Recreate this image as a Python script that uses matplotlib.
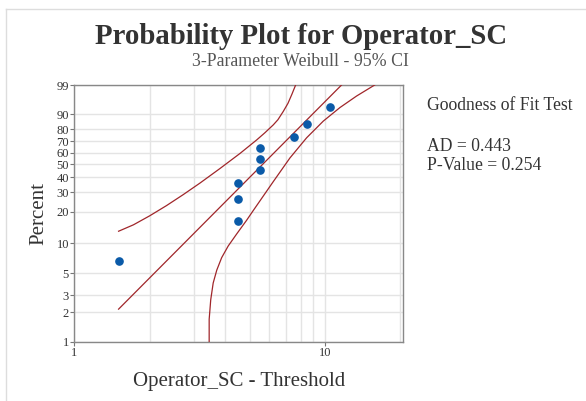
import numpy as np
import matplotlib
matplotlib.use("Agg")
import matplotlib.pyplot as plt
from matplotlib.ticker import FixedLocator, FixedFormatter, NullFormatter, NullLocator

# Datos (Operator_SC - Threshold) y porcentajes de rango mediano
x_datos = [1.5, 4.5, 4.5, 4.5, 5.5, 5.5, 5.5, 7.5, 8.5, 10.5]
pct_datos = [6.7, 16.3, 26.0, 35.6, 45.2, 54.8, 64.4, 74.0, 83.7, 93.3]

# Parametros del ajuste Weibull
forma = 2.61
escala = 6.49

# Banda de confianza 95% (limite superior, a la izquierda)
ic_sup_x = [1.50, 1.72, 2.00, 2.33, 2.72, 3.17, 3.81, 4.58, 5.34, 5.76, 6.22,
            6.49, 6.82, 7.12, 7.38, 7.64]
ic_sup_pct = [13.1, 15.1, 18.4, 22.8, 28.6, 35.8, 46.6, 59.3, 71.1, 77.1, 83.1,
              86.6, 91.4, 94.9, 97.5, 99.0]

# Banda de confianza 95% (limite inferior, a la derecha)
ic_inf_x = [3.45, 3.45, 3.50, 3.58, 3.70, 3.87, 4.11, 4.44, 4.87, 5.17, 6.22,
            7.25, 8.45, 9.85, 11.48, 13.38, 15.80]
ic_inf_pct = [1.0, 1.7, 2.7, 4.0, 5.4, 7.2, 9.4, 12.3, 16.7, 20.5, 36.8,
              55.4, 72.9, 85.7, 93.2, 97.1, 99.0]

ticks_pct = [1, 2, 3, 5, 10, 20, 30, 40, 50, 60, 70, 80, 90, 99]


def weibull_fwd(p):
    p = np.clip(np.asarray(p, dtype=float), 1e-6, 100 - 1e-6)
    return np.log(-np.log(1 - p / 100.0))


def weibull_inv(y):
    y = np.asarray(y, dtype=float)
    return 100.0 * (1 - np.exp(-np.exp(y)))


plt.rcParams["font.family"] = ["Liberation Serif", "DejaVu Serif"]

fig = plt.figure(figsize=(5.86, 4.01), dpi=100)
ax = fig.add_axes([0.1271, 0.1479, 0.5606, 0.6401])

ax.set_xscale("log")
ax.set_yscale("function", functions=(weibull_fwd, weibull_inv))
ax.set_xlim(1, 20.5)
ax.set_ylim(1, 99)

rojo = "#a0262a"

# Linea de ajuste: desde el menor dato hasta el percentil 99
x_ini = min(x_datos)
x_fin = escala * (-np.log(1 - 0.99)) ** (1 / forma)
x_linea = np.geomspace(x_ini, x_fin, 50)
pct_linea = 100 * (1 - np.exp(-(x_linea / escala) ** forma))
ax.plot(x_linea, pct_linea, color=rojo, lw=0.9, zorder=3)

ax.plot(ic_sup_x, ic_sup_pct, color=rojo, lw=0.9, zorder=3)
ax.plot(ic_inf_x, ic_inf_pct, color=rojo, lw=0.9, zorder=3)

ax.plot(x_datos, pct_datos, "o", color="#0a5aa8", ms=5.2, zorder=4)

# Ejes y grilla
ax.yaxis.set_major_locator(FixedLocator(ticks_pct))
ax.yaxis.set_major_formatter(FixedFormatter([str(t) for t in ticks_pct]))
ax.yaxis.set_minor_locator(NullLocator())
ax.xaxis.set_major_locator(FixedLocator([1, 10]))
ax.xaxis.set_major_formatter(FixedFormatter(["1", "10"]))
ax.xaxis.set_minor_locator(FixedLocator([2, 3, 4, 5, 6, 7, 8, 9, 20]))
ax.xaxis.set_minor_formatter(NullFormatter())

ax.grid(True, which="major", color="#e4e4e4", lw=1.0, zorder=0)
ax.grid(True, which="minor", axis="x", color="#e4e4e4", lw=1.0, zorder=0)
ax.tick_params(which="major", length=3, width=0.8, color="#777777",
               labelsize=9, labelcolor="#333333", pad=1)
ax.tick_params(which="minor", length=0)
for sp in ax.spines.values():
    sp.set_color("#888888")
    sp.set_linewidth(1.0)

ax.set_xlabel("Operator_SC - Threshold", fontsize=15, color="#333333", labelpad=9)
ax.set_ylabel("Percent", fontsize=15, color="#333333", labelpad=6)

fig.text(0.514, 0.910, "Probability Plot for Operator_SC", ha="center", va="center",
         fontsize=20.7, fontweight="bold", color="#333333")
fig.text(0.513, 0.846, "3-Parameter Weibull - 95% CI", ha="center", va="center",
         fontsize=12.8, color="#555555")

fig.text(0.729, 0.738, "Goodness of Fit Test", ha="left", va="center",
         fontsize=12.7, color="#333333")
fig.text(0.729, 0.634, "AD = 0.443", ha="left", va="center",
         fontsize=12.7, color="#333333")
fig.text(0.729, 0.588, "P-Value = 0.254", ha="left", va="center",
         fontsize=12.7, color="#333333")

# Marco claro del grafico
fig.add_artist(plt.Line2D([0.010, 0.010], [0.0, 0.977], color="#dddddd", lw=1.0))
fig.add_artist(plt.Line2D([0.010, 1.0], [0.977, 0.977], color="#dddddd", lw=1.0))

fig.savefig("out.png", dpi=100)
